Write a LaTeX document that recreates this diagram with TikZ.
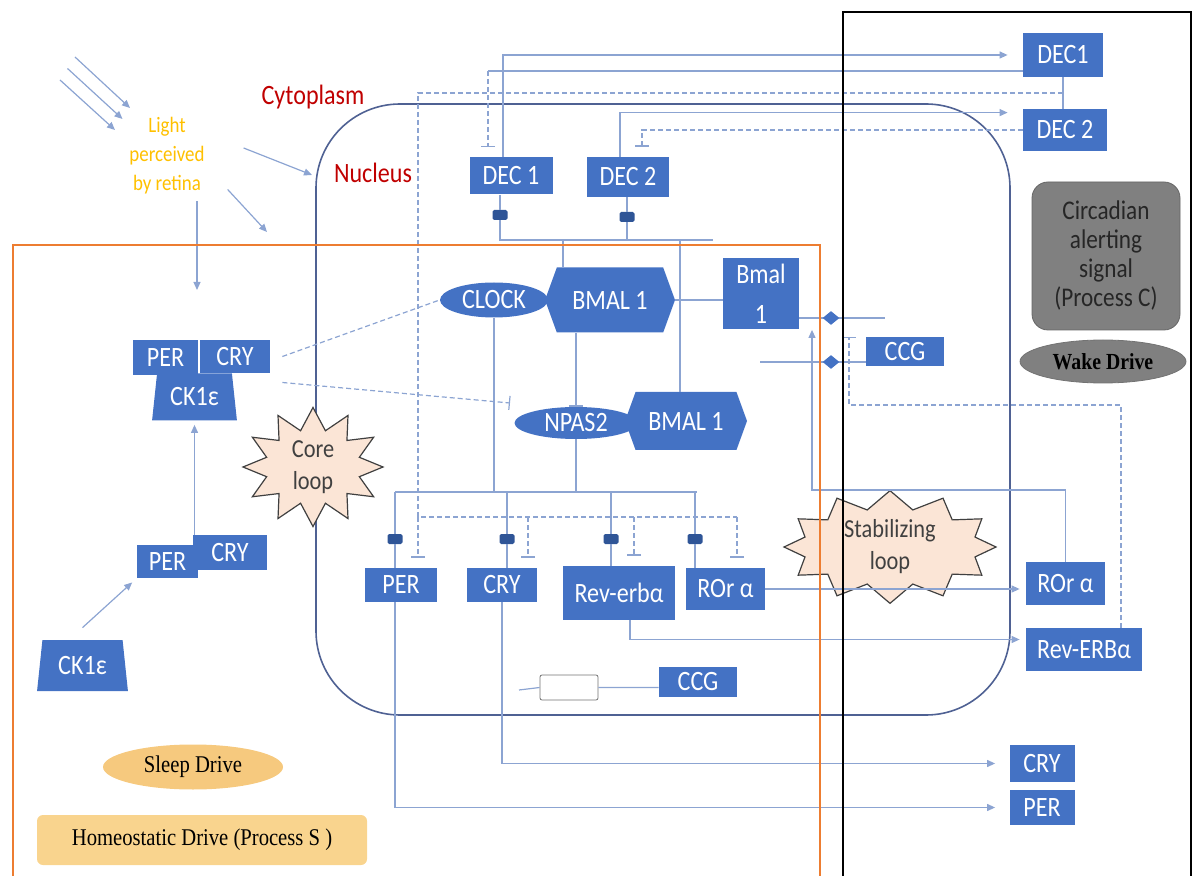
\documentclass[tikz,border=0pt]{standalone}
\usepackage{fontspec}
\setmainfont{Carlito}[FakeStretch=0.86]
\newfontfamily\tmsfont{Liberation Serif}[FakeStretch=0.86]
\usepackage{xcolor}
\usepackage{tikz}
\usetikzlibrary{arrows.meta,shapes.geometric,shapes.symbols}

\definecolor{boxblue}{RGB}{68,114,196}
\definecolor{eboxblue}{RGB}{47,85,151}
\definecolor{linkblue}{RGB}{140,164,210}
\definecolor{nucline}{RGB}{79,97,147}
\definecolor{cellred}{RGB}{192,0,0}
\definecolor{lightgold}{RGB}{255,192,0}
\definecolor{loopfill}{RGB}{251,229,214}
\definecolor{sleepfill}{RGB}{246,201,126}
\definecolor{homeofill}{RGB}{249,212,142}
\definecolor{alertgray}{RGB}{128,128,128}
\definecolor{frameorange}{RGB}{237,125,49}

\begin{document}
\begin{tikzpicture}[x=0.5pt,y=-0.5pt,
  prot/.style={fill=boxblue,text=white,inner sep=0pt,font=\fontsize{14}{16}\selectfont},
  hexa/.style={prot,signal,signal to=east and west,signal pointer angle=140},
  trap/.style={prot,trapezium,trapezium stretches=true,trapezium left angle=80,trapezium right angle=80},
  ebox/.style={fill=eboxblue,minimum width=7.5pt,minimum height=5pt,inner sep=0pt,rounded corners=0.8pt},
  link/.style={draw=linkblue,line width=0.6pt},
  dlink/.style={link,dash pattern=on 2.5pt off 1.5pt},
  act/.style={link,-{Triangle[length=4pt,width=3.5pt]}},
  inh/.style={link,-{Bar[width=7pt]}},
  dinh/.style={dlink,-{Bar[width=7pt]}},
  loopstar/.style={starburst,starburst points=12,starburst point height=11pt,random starburst=0,
    draw=black!75,fill=loopfill,line width=0.6pt,align=center,text=black!75,inner sep=0pt,
    font=\fontsize{13}{16}\selectfont},
]
\useasboundingbox (0,0) rectangle (1193,876);
\draw[draw=nucline,line width=0.8pt,rounded corners=42pt] (316,104) rectangle (1010,715);

\node[text=cellred,font=\fontsize{14}{16}\selectfont] (cyto) at (313,97) {Cytoplasm};
\node[text=cellred,font=\fontsize{14}{16}\selectfont] (nucl) at (373,173) {Nucleus};
\node[text=lightgold,align=center,font=\fontsize{11}{14.5}\selectfont] (light) at (167,156) {Light\\perceived\\by retina};

\node[prot,minimum width=41.5pt,minimum height=18.5pt] (dec1n) at (511,176) {DEC 1};
\node[prot,minimum width=41pt,minimum height=20pt] (dec2n) at (628,177) {DEC 2};
\node[prot,minimum width=40pt,minimum height=22pt] (dec1o) at (1063,55) {DEC1};
\node[prot,minimum width=42pt,minimum height=21pt] (dec2o) at (1065,130) {DEC 2};
\node[ebox] (eb1) at (500,215) {};
\node[ebox] (eb2) at (627,217) {};

\node[hexa,minimum width=65pt,minimum height=32.5pt] (bmalA) at (610,300) {BMAL 1};
\node[prot,ellipse,minimum width=54pt,minimum height=17.5pt] (clock) at (494,300) {CLOCK};
\node[hexa,minimum width=61pt,minimum height=29pt] (bmalB) at (686,421) {BMAL 1};
\node[prot,ellipse,minimum width=61.5pt,minimum height=16pt] (npas) at (576,423) {NPAS2};
\node[prot,align=center,minimum width=38pt,minimum height=35.5pt,font=\fontsize{14}{20}\selectfont] (bmalbox) at (761,294) {Bmal\\1};
\node[prot,minimum width=39pt,minimum height=14.5pt] (ccgR) at (905,352) {CCG};

\node[prot,minimum width=32.5pt,minimum height=17.5pt] (perC) at (165.5,357.5) {PER};
\node[prot,minimum width=35pt,minimum height=16.5pt] (cryC) at (235,356.5) {CRY};
\node[trap,minimum width=42.5pt,minimum height=23.5pt] (ck1C) at (194.5,397) {CK1ε};
\node[prot,minimum width=30.5pt,minimum height=16.5pt] (perL) at (167.5,561.5) {PER};
\node[prot,minimum width=37pt,minimum height=17.5pt] (cryL) at (230,552.5) {CRY};
\node[trap,minimum width=45.5pt,minimum height=25.5pt] (ck1L) at (82.5,665.5) {CK1ε};

\node[prot,minimum width=36pt,minimum height=17pt] (perG) at (401,585) {PER};
\node[prot,minimum width=35pt,minimum height=17pt] (cryG) at (502,585) {CRY};
\node[prot,minimum width=56pt,minimum height=27pt] (revG) at (619,593) {Rev-erbα};
\node[prot,minimum width=39.5pt,minimum height=21pt] (rorG) at (725.5,589) {ROr α};
\node[ebox] (sq1) at (395,539) {};
\node[ebox] (sq2) at (507,539) {};
\node[ebox] (sq3) at (611,539) {};
\node[ebox] (sq4) at (695,539) {};
\node[draw=black!55,fill=white,minimum width=29pt,minimum height=12.5pt,inner sep=0pt,rounded corners=1pt] (prom) at (569,687.5) {};
\node[prot,minimum width=39pt,minimum height=15pt] (ccgB) at (698,682) {CCG};

\node[prot,minimum width=39.5pt,minimum height=21.5pt] (rorO) at (1065.5,583.5) {ROr α};
\node[prot,minimum width=58pt,minimum height=21.5pt] (revO) at (1084,649.5) {Rev-ERBα};
\node[prot,minimum width=32.5pt,minimum height=18.5pt] (cryO) at (1042,763.5) {CRY};
\node[prot,minimum width=32.5pt,minimum height=17.5pt] (perO) at (1042,807.5) {PER};

\node[fill=alertgray,draw=black!60,rounded corners=8pt,minimum width=74pt,minimum height=74pt,align=center,text=black!85,font=\fontsize{13.5}{14.5}\selectfont] (alert) at (1106,256) {Circadian\\alerting\\signal\\(Process C)};
\node[ellipse,fill=alertgray,draw=black!55,minimum width=83pt,minimum height=21.5pt,inner sep=0pt,font=\tmsfont\bfseries\fontsize{11.5}{13}\selectfont] (wake) at (1103,361.5) {Wake Drive};
\node[ellipse,fill=sleepfill,minimum width=90pt,minimum height=22.5pt,inner sep=0pt,font=\tmsfont\fontsize{12}{14}\selectfont] (sleep) at (193,767) {Sleep Drive};
\node[fill=homeofill,rounded corners=3pt,minimum width=165pt,minimum height=25pt,font=\tmsfont\fontsize{12}{14}\selectfont] (homeo) at (202,840) {Homeostatic Drive (Process S )};

\node[loopstar,minimum width=70pt,minimum height=51pt] (core) at (313,467) {Core\\loop};
\node[loopstar,starburst point height=9pt,minimum width=106pt,minimum height=40pt] (stab) at (890,547) {Stabilizing\\loop};

\coordinate (busdec) at (713,240);
\coordinate (tA) at (563,240);
\coordinate (tB) at (680,240);
\coordinate (busgl) at (395,492);
\coordinate (busgr) at (697,492);
\coordinate (decfb) at (488,71);
\coordinate (decout) at (1063,93);
\coordinate (genel) at (418,517);
\coordinate (gener) at (737,517);
\coordinate (rorup) at (812,490);
\coordinate (bmalend) at (885,318);
\coordinate (ccgstart) at (760,362);
\coordinate (revturn) at (849,405);
\coordinate (npasbar) at (510,403);
\coordinate (toNuc) at (312,175);
\coordinate (toCyt) at (267,232);
\coordinate (toCell) at (197,290);
\coordinate (promstart) at (519,690);

\draw[link] (eb1.north |- dec1n.south) -- (eb1.north) (eb1.south) |- (busdec);
\draw[link] (eb2.north |- dec2n.south) -- (eb2.north) (eb2.south) -- (eb2.south |- busdec);
\draw[link] (tA) -- (tA |- bmalA.north);
\draw[link] (tB) -- (tB |- bmalB.north);
\draw[act,shorten >=7.5pt] ([xshift=-4pt]dec1n.north) |- (dec1o.west);
\draw[link] (decfb -| dec1o.west) -- (decfb);
\draw[dinh,shorten >=5pt] (decfb) -- (decfb |- dec1n.north);
\draw[act,shorten >=7.5pt] ([xshift=-4pt]dec2n.north) |- ([yshift=-2pt]dec2o.north west);
\draw[dinh,shorten >=5pt] (dec2o.west) -| ([xshift=7pt]dec2n.north);
\draw[link] (dec1o.south) -- (dec1o.south |- dec2o.north);
\draw[dlink] (decout) -| (genel) -- (gener);
\foreach \g/\dx in {perG/8.5,cryG/13,revG/7.5,rorG/5.75}
  \draw[dinh,shorten >=5pt] ([xshift=\dx pt]\g.north |- genel) -- ([xshift=\dx pt]\g.north);

\draw[link] (bmalA.east) -- (bmalA.east -| bmalbox.west);
\draw[inh] (npas.north |- bmalA.south) -- (npas.north);
\draw[link] (clock.south) -- (clock.south |- busgl);
\draw[link] (npas.south) -- (npas.south |- busgl);
\draw[link] (busgl) -- (busgr);
\foreach \s/\g in {sq1/perG,sq2/cryG,sq3/revG,sq4/rorG}
  \draw[link] (\s.north |- busgl) -- (\s.north) (\s.south) -- (\s.south |- \g.north);

\draw[act,shorten >=7pt] (sq1.south |- perG.south) |- (perO.west);
\draw[act,shorten >=7pt] (cryG.south) |- (cryO.west);
\draw[act,shorten >=3pt] ([xshift=5.5pt]revG.south) |- ([yshift=5pt]revO.west);
\draw[act,shorten >=3pt] (rorG.east) -- (rorG.east -| rorO.west);
\draw[act] (rorO.north) |- (rorup) -- (rorup |- bmalbox.south);
\draw[link] ([yshift=-12pt]bmalbox.east) -- (bmalend);
\draw[link] (ccgstart) -- (ccgstart -| ccgR.west);
\draw[dinh] ([xshift=18.5pt]revO.north) |- (revturn) -- (revturn |- ccgR.north);
\node[diamond,fill=boxblue,minimum width=8.5pt,minimum height=7pt,inner sep=0pt] (dm1) at (831,318) {};
\node[diamond,fill=boxblue,minimum width=8.5pt,minimum height=7pt,inner sep=0pt] (dm2) at (831,362) {};
\draw[link] (promstart) -- (prom.west) (prom.east) -- (prom.east -| ccgB.west);

\draw[dlink] ([xshift=6pt]cryC.east) -- (clock.west);
\draw[dinh] ([xshift=6pt,yshift=-13pt]cryC.east) -- (npasbar);
\draw[act,shorten >=2pt] (ck1C.south |- cryL.north) -- (ck1C.south);
\draw[act,shorten >=3pt] ([yshift=6pt]ck1L.north) -- (perL.south west);

\foreach \d in {0,1,2}
  \draw[act] ({75-7.5*\d},{57+11.5*\d}) -- ({130-7.5*\d},{108+11*\d});
\draw[act] ([xshift=16pt,yshift=4pt]light.east) -- (toNuc);
\draw[act] ([xshift=8pt,yshift=6pt]light.south east) -- (toCyt);
\draw[act] (toCell |- light.south) -- (toCell);

\draw[frameorange,line width=1.3pt] (13,880) -- (13,245) -- (820,245) -- (820,880);
\draw[black,line width=1.4pt] (843,880) -- (843,12) -- (1191,12) -- (1191,880);
\end{tikzpicture}
\end{document}
